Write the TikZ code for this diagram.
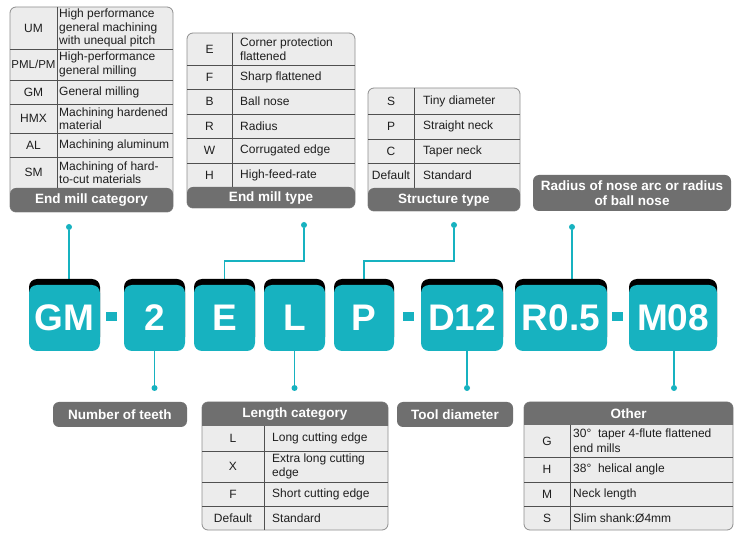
\documentclass[tikz,border=0pt]{standalone}
\usepackage{fontspec}
\setmainfont{Liberation Sans}
\usetikzlibrary{shadows,backgrounds}
\definecolor{teal1}{HTML}{17B2C0}
\definecolor{bargray}{HTML}{6F6F6F}
\definecolor{cellfill}{HTML}{ECECEC}
\definecolor{tborder}{HTML}{8E8E8E}
\definecolor{rowline}{HTML}{505050}
\definecolor{txt}{HTML}{1E1E1E}
\begin{document}
\begin{tikzpicture}[x=1pt,y=-1pt,
  tbody/.style={fill=cellfill, draw=tborder, line width=0.8pt, rounded corners=6pt},
  barfill/.style={fill=bargray, rounded corners=6pt},
  rowsep/.style={draw=rowline, line width=0.9pt},
  barlabel/.style={text=white, font=\fontsize{13.5}{15}\selectfont\bfseries, align=center, inner sep=0pt},
  keytext/.style={font=\fontsize{12}{13.5}\selectfont, inner sep=0pt, text=txt, align=center},
  desctext/.style={font=\fontsize{12}{13.5}\selectfont, inner sep=0pt, text=txt, anchor=west, align=left},
  codebox/.style={fill=teal1, rounded corners=8pt, text=white, font=\fontsize{37}{37}\selectfont\bfseries, inner sep=0pt, minimum height=66pt, general shadow={fill=black, shadow yshift=6pt}},
  dashbar/.style={fill=teal1, inner sep=0pt, minimum width=11pt, minimum height=9pt},
  dot/.style={circle, fill=teal1, inner sep=0pt, minimum size=6pt},
  conn/.style={draw=teal1, line width=1.4pt}]
\useasboundingbox (0,0) rectangle (750,534);

% ---------- Table 1: End mill category ----------
\draw[tbody] (10,7) rectangle (173,212);
\fill[barfill] (10,188) rectangle (173,212);
\foreach \y in {49,80,104,133,157} \draw[rowsep] (10,\y) -- (173,\y);
\draw[rowsep] (57,7) -- (57,188);
\node[barlabel] (t1h) at (91.5,200) {End mill category};
\node[keytext] (t1k1) at (33.5,28) {UM};
\node[keytext,font=\fontsize{11.5}{13}\selectfont] (t1k2) at (33.5,64.5) {PML/PM};
\node[keytext] (t1k3) at (33.5,92) {GM};
\node[keytext] (t1k4) at (33.5,118.5) {HMX};
\node[keytext] (t1k5) at (33.5,145) {AL};
\node[keytext] (t1k6) at (33.5,172.5) {SM};
\node[desctext] (t1d1) at (59,28) {High performance\\general machining\\with unequal pitch};
\node[desctext] (t1d2) at (59,64.5) {High-performance\\general milling};
\node[desctext] (t1d3) at (59,92) {General milling};
\node[desctext] (t1d4) at (59,118.5) {Machining hardened\\material};
\node[desctext] (t1d5) at (59,145) {Machining aluminum};
\node[desctext] (t1d6) at (59,172.5) {Machining of hard-\\to-cut materials};

% ---------- Table 2: End mill type ----------
\draw[tbody] (187,33) rectangle (355,208);
\fill[barfill] (187,187) rectangle (355,208);
\foreach \y in {65,89,114,138,163} \draw[rowsep] (187,\y) -- (355,\y);
\draw[rowsep] (232,33) -- (232,187);
\node[barlabel] (t2h) at (271,198) {End mill type};
\node[keytext] (t2k1) at (209.5,49) {E};
\node[keytext] (t2k2) at (209.5,77) {F};
\node[keytext] (t2k3) at (209.5,101.5) {B};
\node[keytext] (t2k4) at (209.5,126) {R};
\node[keytext] (t2k5) at (209.5,150.5) {W};
\node[keytext] (t2k6) at (209.5,175) {H};
\node[desctext] (t2d1) at (240,49) {Corner protection\\flattened};
\node[desctext] (t2d2) at (240,77) {Sharp flattened};
\node[desctext] (t2d3) at (240,101.5) {Ball nose};
\node[desctext] (t2d4) at (240,126) {Radius};
\node[desctext] (t2d5) at (240,150.5) {Corrugated edge};
\node[desctext] (t2d6) at (240,175) {High-feed-rate};

% ---------- Table 3: Structure type ----------
\draw[tbody] (368,88) rectangle (520,211);
\fill[barfill] (368,188) rectangle (520,211);
\foreach \y in {114,139,163} \draw[rowsep] (368,\y) -- (520,\y);
\draw[rowsep] (414,88) -- (414,188);
\node[barlabel] (t3h) at (444,200) {Structure type};
\node[keytext] (t3k1) at (391,101) {S};
\node[keytext] (t3k2) at (391,126.5) {P};
\node[keytext] (t3k3) at (391,151) {C};
\node[keytext] (t3k4) at (391,175.5) {Default};
\node[desctext] (t3d1) at (423,101) {Tiny diameter};
\node[desctext] (t3d2) at (423,126.5) {Straight neck};
\node[desctext] (t3d3) at (423,151) {Taper neck};
\node[desctext] (t3d4) at (423,175.5) {Standard};

% ---------- Radius label ----------
\fill[barfill] (533,175) rectangle (731,211);
\node[barlabel] (rlab) at (632,193) {Radius of nose arc or radius\\of ball nose};

% ---------- Code boxes ----------
\node[codebox, minimum width=71pt] (gm) at (64.5,318) {GM};
\node[dashbar] (dash1) at (111.5,316.5) {};
\node[codebox, minimum width=61pt] (two) at (154.5,318) {2};
\node[codebox, minimum width=61pt] (e) at (224.5,318) {E};
\node[codebox, minimum width=61pt] (l) at (294.5,318) {L};
\node[codebox, minimum width=60pt] (p) at (364,318) {P};
\node[dashbar] (dash2) at (408.5,316.5) {};
\node[codebox, minimum width=82pt] (d) at (462,318) {D12};
\node[codebox, minimum width=92pt] (r) at (561,318) {R0.5};
\node[dashbar] (dash3) at (617.5,316.5) {};
\node[codebox, minimum width=88pt] (m) at (673,318) {M08};

% ---------- Dots ----------
\node[dot] (gmdot) at (69,227) {};
\node[dot] (edot) at (304,225) {};
\node[dot] (pdot) at (454,225) {};
\node[dot] (rdot) at (572,227) {};
\node[dot] (twodot) at (154.5,388) {};
\node[dot] (ldot) at (294.5,388) {};
\node[dot] (ddot) at (467,388) {};
\node[dot] (mdot) at (674,388) {};
\coordinate (ebend) at (304,261);
\coordinate (pbend) at (454,261);

\begin{scope}[on background layer]
\fill[white] (0,0) rectangle (750,534);
\draw[conn] (gmdot) -- (gmdot |- gm.north);
\draw[conn] (e.north) |- (ebend) -- (edot);
\draw[conn] (p.north) |- (pbend) -- (pdot);
\draw[conn] (rdot) -- (rdot |- r.north);
\draw[conn] (two.south) -- (twodot);
\draw[conn] (l.south) -- (ldot);
\draw[conn] (ddot |- d.south) -- (ddot);
\draw[conn] (mdot |- m.south) -- (mdot);
\end{scope}

% ---------- Bottom labels ----------
\fill[barfill] (53,402) rectangle (187,427);
\node[barlabel] (teeth) at (120,414.5) {Number of teeth};
\fill[barfill] (397,402) rectangle (513,427);
\node[barlabel] (tooldia) at (455,414.5) {Tool diameter};

% ---------- Table 4: Length category ----------
\draw[tbody] (202,402) rectangle (388,530);
\begin{scope}
\clip[rounded corners=6pt] (202,402) rectangle (388,530);
\fill[bargray] (200,400) rectangle (390,426);
\end{scope}
\foreach \y in {451,482,506} \draw[rowsep] (202,\y) -- (388,\y);
\draw[rowsep] (264,426) -- (264,530);
\node[barlabel] (t4h) at (295,414) {Length category};
\node[keytext] (t4k1) at (233,438.5) {L};
\node[keytext] (t4k2) at (233,466.5) {X};
\node[keytext] (t4k3) at (233,494) {F};
\node[keytext] (t4k4) at (233,518) {Default};
\node[desctext] (t4d1) at (272,438.5) {Long cutting edge};
\node[desctext] (t4d2) at (272,466.5) {Extra long cutting\\edge};
\node[desctext] (t4d3) at (272,494) {Short cutting edge};
\node[desctext] (t4d4) at (272,518) {Standard};

% ---------- Table 5: Other ----------
\draw[tbody] (524,402) rectangle (733,530);
\begin{scope}
\clip[rounded corners=6pt] (524,402) rectangle (733,530);
\fill[bargray] (522,400) rectangle (735,425);
\end{scope}
\foreach \y in {457,482,506} \draw[rowsep] (524,\y) -- (733,\y);
\draw[rowsep] (570,425) -- (570,530);
\node[barlabel] (t5h) at (628.5,413.5) {Other};
\node[keytext] (t5k1) at (547,441) {G};
\node[keytext] (t5k2) at (547,469.5) {H};
\node[keytext] (t5k3) at (547,494) {M};
\node[keytext] (t5k4) at (547,518) {S};
\node[desctext, font=\fontsize{12}{15}\selectfont] (t5d1) at (573,441) {30°\ \ taper 4-flute flattened\\end mills};
\node[desctext] (t5d2) at (573,469.5) {38°\ \ helical angle};
\node[desctext] (t5d3) at (573,494) {Neck length};
\node[desctext] (t5d4) at (573,518) {Slim shank:Ø4mm};
\end{tikzpicture}
\end{document}
